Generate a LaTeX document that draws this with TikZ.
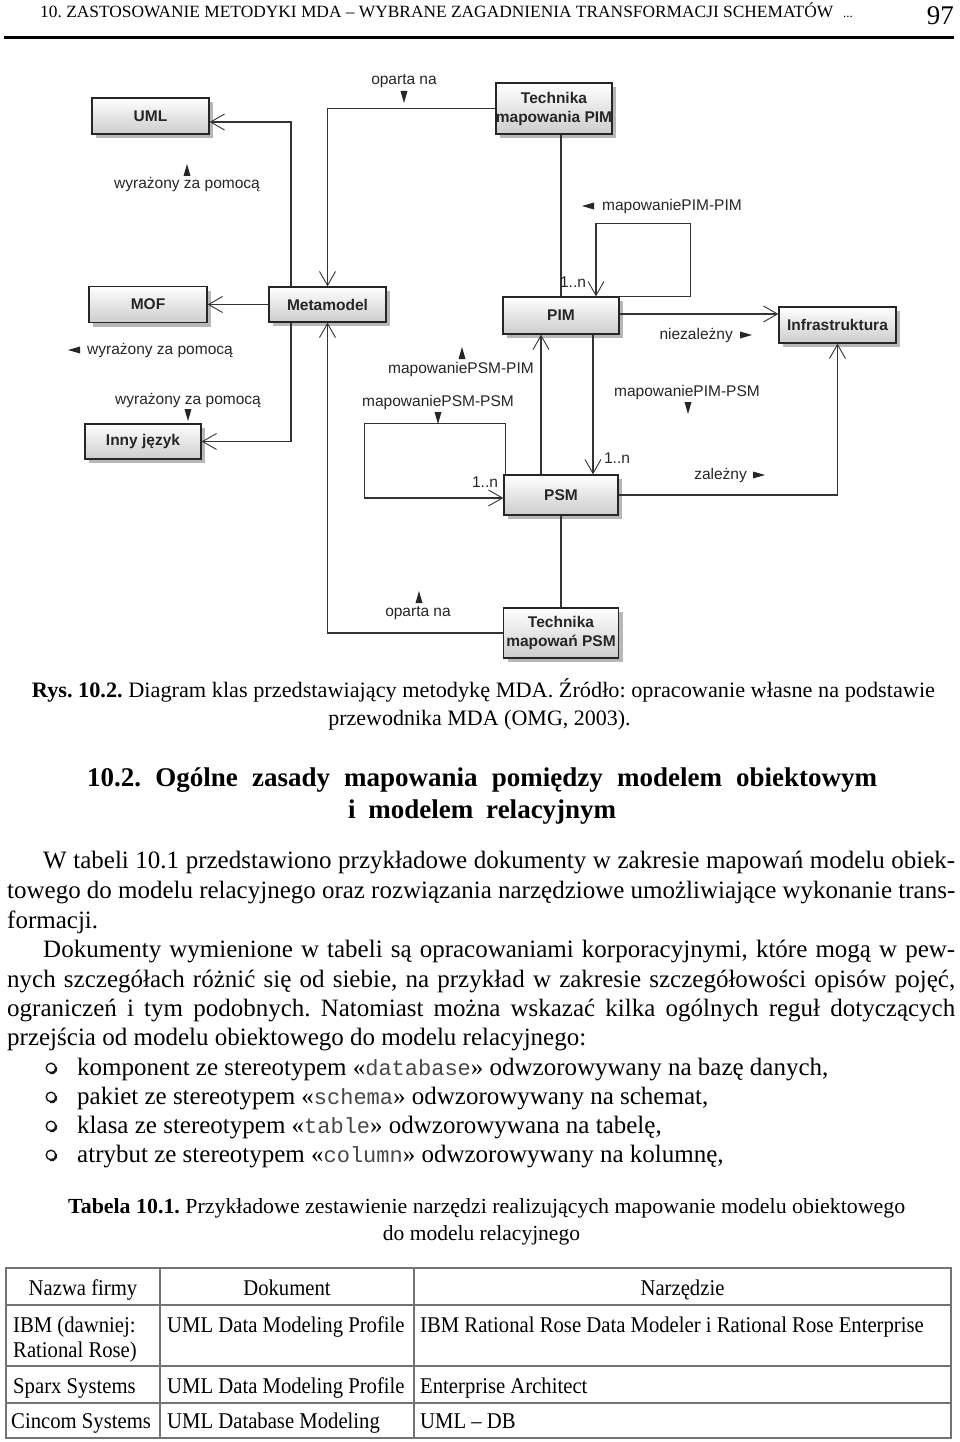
\documentclass[tikz,border=0pt]{standalone}
\usepackage{fontspec}
\usepackage{graphicx}
\setmainfont{Liberation Serif}
\setsansfont{Liberation Sans}
\setmonofont{Liberation Mono}
\newfontfamily\condserif[FakeStretch=0.92]{Liberation Serif}
\usetikzlibrary{arrows.meta,shadows,calc}
\AtBeginDocument{\frenchspacing}
\newcommand\fitto[2]{\resizebox{#1}{\height}{#2}}
\newcommand\code[1]{{\fontsize{22}{26}\selectfont\ttfamily\color{black!72}#1}}
\newcommand\triU[2]{\fill[tri] (#1-3.5,#2+6) -- (#1+3.5,#2+6) -- (#1,#2-6) -- cycle;}
\newcommand\triD[2]{\fill[tri] (#1-3.5,#2-6) -- (#1+3.5,#2-6) -- (#1,#2+6) -- cycle;}
\newcommand\triL[2]{\fill[tri] (#1+6,#2-3.5) -- (#1+6,#2+3.5) -- (#1-6,#2) -- cycle;}
\newcommand\triR[2]{\fill[tri] (#1-6,#2-3.5) -- (#1-6,#2+3.5) -- (#1+6,#2) -- cycle;}
\newcommand\bul[2]{\draw[bullet] (#1,#2) circle (4.8);
  \draw[line width=2.2pt, black!90] (#1+0.5,#2+0.5) ++(-20:4.8) arc (-20:110:4.8);}
\tikzset{
  cls/.style={draw=black!85, line width=1.3pt, top color=white, bottom color=black!20,
    inner sep=0pt, align=center, font=\fontsize{15.5}{19}\selectfont\sffamily\bfseries,
    text=black!85,
    drop shadow={shadow xshift=4pt, shadow yshift=-4pt, fill=black!35, opacity=0.8}},
  assoc/.style={draw=black!80, line width=1.2pt, -{Straight Barb[length=14pt,width=16pt,line width=0.9pt]}},
  plain/.style={draw=black!80, line width=1.2pt},
  lbl/.style={font=\fontsize{15.5}{18}\selectfont\sffamily, text=black!85, inner sep=0pt},
  tri/.style={fill=black!85},
  txt/.style={anchor=base west, inner sep=0pt, font=\fontsize{25}{29}\selectfont},
  tabtxt/.style={anchor=base west, inner sep=0pt, font=\fontsize{22.5}{26}\selectfont\condserif},
  tabc/.style={anchor=base, inner sep=0pt, font=\fontsize{22.5}{26}\selectfont\condserif},
  tabline/.style={draw=black!55, line width=1.3pt},
  bullet/.style={draw=black!90, line width=1.4pt}
}
\begin{document}
\begin{tikzpicture}[x=1pt,y=-1pt]
\fill[white] (0,0) rectangle (960,1442);
\useasboundingbox (0,0) rectangle (960,1442);

% ---------- header ----------
\node[anchor=base west, inner sep=0pt, font=\fontsize{17.2}{20}\selectfont] (hdr) at (40,18)
  {\fitto{793pt}{10. ZASTOSOWANIE METODYKI MDA – WYBRANE ZAGADNIENIA TRANSFORMACJI SCHEMATÓW}};
\node[anchor=base west, inner sep=0pt, font=\fontsize{13}{15}\selectfont] (hdots) at (843,18) {...};
\node[anchor=base east, inner sep=0pt, font=\fontsize{27}{30}\selectfont] (pnum) at (954,25) {97};
\draw[line width=3pt] (4,37.5) -- (954,37.5);

% ---------- diagram boxes ----------
\node[cls, minimum width=117pt, minimum height=36pt] (UML) at (150.5,116) {UML};
\node[cls, minimum width=118pt, minimum height=36pt] (MOF) at (148,304.5) {MOF};
\node[cls, minimum width=116pt, minimum height=35pt] (Inny) at (143,441.5) {Inny język};
\node[cls, minimum width=117pt, minimum height=35pt] (Meta) at (327.5,304.5) {Metamodel};
\node[cls, minimum width=116pt, minimum height=51pt] (TPIM) at (554,108.5) {Technika\\mapowania PIM};
\node[cls, minimum width=116pt, minimum height=37pt] (PIM) at (561,315.5) {PIM};
\node[cls, minimum width=117pt, minimum height=36pt] (Infra) at (837.5,325) {Infrastruktura};
\node[cls, minimum width=114pt, minimum height=40pt] (PSM) at (561,495) {PSM};
\node[cls, minimum width=115pt, minimum height=50pt] (TPSM) at (561,633) {Technika\\mapowań PSM};

% ---------- connectors ----------
\draw[assoc] (TPIM.west) -| (Meta.north);
\draw[assoc] ($(Meta.north)+(-36.5,0)$) |- ($(UML.east)+(0,6)$);
\draw[assoc] (Meta.west) -- (MOF.east);
\draw[assoc] ($(Meta.south)+(-36.5,0)$) |- (Inny.east);
\draw[assoc] (TPSM.west) -| (Meta.south);
\draw[plain] (PIM.north |- TPIM.south) -- (PIM.north);
\draw[assoc] (PIM.north east) -- ++(71,0) -- ++(0,-73) -| ($(PIM.north)+(35,0)$);
\draw[assoc] ($(PIM.east)+(0,-1.5)$) -- ($(PIM.east -| Infra.west)+(0,-1.5)$);
\draw[assoc] ($(PSM.north)+(-20,0)$) -- ($(PIM.south)+(-20,0)$);
\draw[assoc] ($(PIM.south)+(32,0)$) -- ($(PSM.north)+(32,0)$);
\draw[assoc] ($(PSM.north west)+(2,0)$) -- ++(0,-51) -- ++(-141,0) |- ($(PSM.west)+(0,3)$);
\draw[assoc] (PSM.east) -| (Infra.south);
\draw[plain] (PSM.south) -- (TPSM.north);

% ---------- association labels ----------
\node[lbl] (l1) at (404,81) {oparta na}; \triD{404}{97}
\node[lbl] (l2) at (187,185) {wyrażony za pomocą}; \triU{187}{170}
\node[lbl, anchor=west] (l3) at (87,350) {wyrażony za pomocą}; \triL{74}{350}
\node[lbl] (l4) at (188,400) {wyrażony za pomocą}; \triD{188}{415}
\node[lbl] (l5) at (461,369) {mapowaniePSM-PIM}; \triU{462}{353}
\node[lbl] (l6) at (438,402) {mapowaniePSM-PSM}; \triD{438}{418}
\node[lbl, anchor=west] (l7) at (602,206) {mapowaniePIM-PIM}; \triL{588}{206}
\node[lbl, anchor=east] (l8) at (733,335) {niezależny}; \triR{746}{335}
\node[lbl] (l9) at (687,392) {mapowaniePIM-PSM}; \triD{688}{408}
\node[lbl, anchor=east] (l10) at (747,475) {zależny}; \triR{759}{475}
\node[lbl] (l11) at (418,613) {oparta na}; \triU{419}{597}
\node[lbl] (m1) at (573,282) {1..n};
\node[lbl] (m2) at (617,458) {1..n};
\node[lbl] (m3) at (485,482) {1..n};

% ---------- figure caption ----------
\node[anchor=base, inner sep=0pt, font=\fontsize{22}{26}\selectfont] (cap1) at (483.5,697)
  {\fitto{903pt}{\textbf{Rys. 10.2.} Diagram klas przedstawiający metodykę MDA. Źródło: opracowanie własne na podstawie}};
\node[anchor=base, inner sep=0pt, font=\fontsize{22}{26}\selectfont] (cap2) at (479.5,725)
  {przewodnika MDA (OMG, 2003).};

% ---------- section heading ----------
\node[anchor=base west, inner sep=0pt, font=\fontsize{27}{31}\selectfont\bfseries] (h1) at (87,786)
  {\makebox[790pt][s]{10.2. Ogólne zasady mapowania pomiędzy modelem obiektowym}};
\node[anchor=base west, inner sep=0pt, font=\fontsize{27}{31}\selectfont\bfseries] (h2) at (348,818)
  {\makebox[268pt][s]{i modelem relacyjnym}};

% ---------- body text ----------
\node[txt] (p1a) at (43,868) {\makebox[912pt][s]{W tabeli 10.1 przedstawiono przykładowe dokumenty w zakresie mapowań modelu obiek-}};
\node[txt] (p1b) at (7,898) {\makebox[948pt][s]{towego do modelu relacyjnego oraz rozwiązania narzędziowe umożliwiające wykonanie trans-}};
\node[txt] (p1c) at (7,928) {formacji.};
\node[txt] (p2a) at (43,957) {\makebox[912pt][s]{Dokumenty wymienione w tabeli są opracowaniami korporacyjnymi, które mogą w pew-}};
\node[txt] (p2b) at (7,987) {\makebox[948pt][s]{nych szczegółach różnić się od siebie, na przykład w zakresie szczegółowości opisów pojęć,}};
\node[txt] (p2c) at (7,1016) {\makebox[948pt][s]{ograniczeń i tym podobnych. Natomiast można wskazać kilka ogólnych reguł dotyczących}};
\node[txt] (p2d) at (7,1045) {przejścia od modelu obiektowego do modelu relacyjnego:};

\bul{51}{1068}
\node[txt] (b1) at (77,1075) {komponent ze stereotypem «\code{database}» odwzorowywany na bazę danych,};
\bul{51}{1097}
\node[txt] (b2) at (77,1104) {pakiet ze stereotypem «\code{schema}» odwzorowywany na schemat,};
\bul{51}{1126}
\node[txt] (b3) at (77,1133) {klasa ze stereotypem «\code{table}» odwzorowywana na tabelę,};
\bul{51}{1155}
\node[txt] (b4) at (77,1162) {atrybut ze stereotypem «\code{column}» odwzorowywany na kolumnę,};

% ---------- table caption ----------
\node[anchor=base west, inner sep=0pt, font=\fontsize{21.5}{25}\selectfont] (tc1) at (68,1213)
  {\fitto{837pt}{\textbf{Tabela 10.1.} Przykładowe zestawienie narzędzi realizujących mapowanie modelu obiektowego}};
\node[anchor=base, inner sep=0pt, font=\fontsize{21.5}{25}\selectfont] (tc2) at (481.5,1240)
  {do modelu relacyjnego};

% ---------- table ----------
\draw[tabline] (6,1268) rectangle (951,1438);
\draw[tabline] (6,1305) -- (951,1305);
\draw[tabline] (6,1366) -- (951,1366);
\draw[tabline] (6,1403) -- (951,1403);
\draw[tabline] (160,1268) -- (160,1438);
\draw[tabline] (414,1268) -- (414,1438);

\node[tabc] (th1) at (83,1295) {Nazwa firmy};
\node[tabc] (th2) at (287,1295) {Dokument};
\node[tabc] (th3) at (682.5,1295) {Narzędzie};
\node[tabtxt] (r1a) at (13,1332) {IBM (dawniej:};
\node[tabtxt] (r1a2) at (13,1357) {Rational Rose)};
\node[tabtxt] (r1b) at (167,1332) {UML Data Modeling Profile};
\node[tabtxt] (r1c) at (420,1332) {IBM Rational Rose Data Modeler i Rational Rose Enterprise};
\node[tabtxt] (r2a) at (13,1393) {Sparx Systems};
\node[tabtxt] (r2b) at (167,1393) {UML Data Modeling Profile};
\node[tabtxt] (r2c) at (420,1393) {Enterprise Architect};
\node[tabtxt] (r3a) at (11,1428) {Cincom Systems};
\node[tabtxt] (r3b) at (167,1428) {UML Database Modeling};
\node[tabtxt] (r3c) at (420,1428) {UML – DB};
\end{tikzpicture}
\end{document}
